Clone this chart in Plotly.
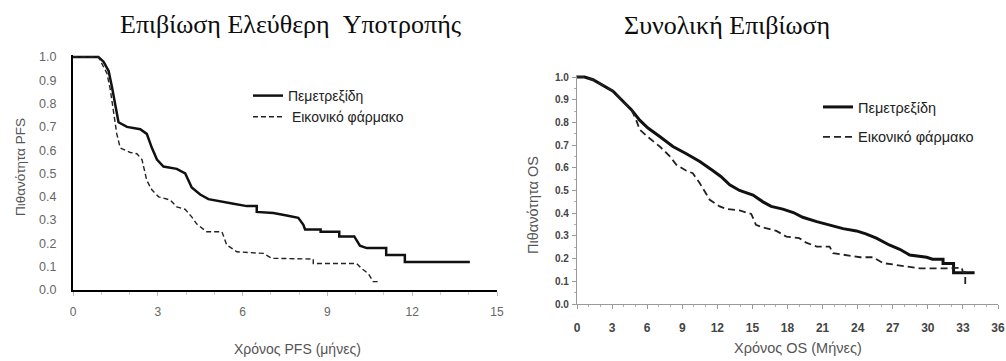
import plotly.graph_objects as go

# ---------------- data ----------------
pfs_t_pem = [0, 0.9, 1.08, 1.26, 1.38, 1.5, 1.61, 1.91, 2.38, 2.61, 2.79, 2.97, 3.2, 3.67, 3.97, 4.2, 4.5,
             4.79, 5.32, 5.68, 6.15, 6.5, 6.5, 7.09, 7.56, 7.97, 8.15, 8.21, 8.76, 8.76, 9.42, 9.42, 9.95,
             10.15, 10.39, 11.08, 11.08, 11.74, 11.74, 14.04]
pfs_s_pem = [1.0, 1.0, 0.98, 0.94, 0.87, 0.79, 0.72, 0.70, 0.69, 0.67, 0.61, 0.56, 0.53, 0.52, 0.50, 0.44, 0.41,
             0.39, 0.38, 0.37, 0.36, 0.36, 0.335, 0.33, 0.32, 0.31, 0.28, 0.26, 0.26, 0.25, 0.25, 0.23, 0.23,
             0.19, 0.18, 0.18, 0.15, 0.15, 0.12, 0.12]

pfs_t_plc = [0, 0.9, 1.2, 1.32, 1.44, 1.55, 1.67, 2.03, 2.26, 2.44, 2.61, 2.79, 3.03, 3.44, 3.67, 3.97, 4.2,
             4.38, 4.73, 5.27, 5.44, 5.8, 6.74, 7.03, 8.5, 8.5, 10.03, 10.2, 10.45, 10.62, 10.8]
pfs_s_plc = [1.0, 1.0, 0.93, 0.86, 0.76, 0.67, 0.61, 0.59, 0.585, 0.56, 0.47, 0.43, 0.40, 0.386, 0.357, 0.346, 0.314,
             0.283, 0.25, 0.25, 0.193, 0.164, 0.157, 0.136, 0.133, 0.114, 0.114, 0.093, 0.07, 0.036, 0.036]

os_t_pem = [0, 0.65, 1.37, 2.22, 3.08, 3.93, 4.65, 5.36, 6.07, 7.07, 8.2, 9.35, 10.5, 11.6, 12.3, 13.06, 13.9,
            15.05, 15.9, 16.6, 17.6, 18.5, 19.3, 20.5, 21.6, 22.75, 23.9, 24.7, 25.6, 26.7, 27.6, 28.45, 29.9,
            30.4, 31.3, 31.3, 32.2, 32.2, 34.0]
os_s_pem = [1.0, 1.0, 0.988, 0.962, 0.937, 0.893, 0.856, 0.81, 0.775, 0.738, 0.694, 0.662, 0.628, 0.588, 0.562,
            0.525, 0.5, 0.48, 0.45, 0.43, 0.418, 0.403, 0.382, 0.363, 0.349, 0.332, 0.322, 0.309, 0.29, 0.26,
            0.241, 0.216, 0.206, 0.197, 0.197, 0.178, 0.178, 0.138, 0.138]

os_t_plc = [0, 0.65, 1.37, 2.22, 3.08, 3.93, 4.65, 5.07, 5.36, 6.2, 7.07, 7.9, 8.5, 9.35, 9.9, 10.5, 11.06, 11.35,
            12.2, 12.77, 13.9, 14.9, 15.3, 15.9, 17.05, 17.9, 19.0, 19.6, 20.5, 21.6, 21.9, 23.3, 24.2, 25.3,
            26.2, 27.3, 28.2, 29.3, 31.6, 32.9, 33.0, 33.2, 33.2, 33.4]
os_s_plc = [1.0, 1.0, 0.988, 0.962, 0.937, 0.893, 0.856, 0.81, 0.768, 0.73, 0.694, 0.653, 0.613, 0.587, 0.576,
            0.532, 0.481, 0.459, 0.43, 0.419, 0.412, 0.397, 0.349, 0.337, 0.322, 0.297, 0.29, 0.27, 0.253, 0.253,
            0.224, 0.212, 0.206, 0.206, 0.18, 0.172, 0.165, 0.157, 0.157, 0.16, 0.14, 0.14, 0.085, 0.085]

pfs_xticks = [0, 3, 6, 9, 12, 15]
os_xticks = [0, 3, 6, 9, 12, 15, 18, 21, 24, 27, 30, 33, 36]
y_ticks = [0.0, 0.1, 0.2, 0.3, 0.4, 0.5, 0.6, 0.7, 0.8, 0.9, 1.0]

name_pem = "Πεμετρεξίδη"
name_plc = "Εικονικό φάρμακο"
title_pfs = "Επιβίωση Ελεύθερη &nbsp;Υποτροπής"
title_os = "Συνολική Επιβίωση"
xlab_pfs = "Χρόνος PFS (μήνες)"
xlab_os = "Χρόνος OS (Μήνες)"
ylab_pfs = "Πιθανότητα PFS"
ylab_os = "Πιθανότητα OS"

# ---------------- figure ----------------
W, H = 1006, 361
SANS = "Liberation Sans, Arial, sans-serif"
SERIF = "Liberation Serif, Times New Roman, serif"
INK = "#111111"

def px(x):
    return x / W

def py(y):
    return (H - y) / H

fig = go.Figure()

fig.add_trace(go.Scatter(x=pfs_t_pem, y=pfs_s_pem, mode="lines", name=name_pem,
                         line=dict(color=INK, width=2.5), xaxis="x", yaxis="y", legend="legend"))
fig.add_trace(go.Scatter(x=pfs_t_plc, y=pfs_s_plc, mode="lines", name=" " + name_plc,
                         line=dict(color="#222222", width=1.4, dash="5px,3px"), xaxis="x", yaxis="y",
                         legend="legend"))
fig.add_trace(go.Scatter(x=os_t_pem, y=os_s_pem, mode="lines", name=name_pem, legendgroup="a",
                         line=dict(color=INK, width=3), xaxis="x2", yaxis="y2", legend="legend2"))
fig.add_trace(go.Scatter(x=os_t_plc, y=os_s_plc, mode="lines", name=name_plc, legendgroup="b",
                         line=dict(color="#222222", width=1.8, dash="7px,4px"), xaxis="x2", yaxis="y2",
                         legend="legend2"))

# left axes: 0 -> x=73, 15 -> x=497; y 0 -> 290, 1.0 -> 57
yl_top = 57 - 0.01 * 233
fig.update_layout(
    xaxis=dict(domain=[px(73), px(497)], range=[0, 15], tickvals=pfs_xticks, showline=True,
               linecolor="#000000", linewidth=1.5, ticks="outside", ticklen=4, tickcolor="#bbbbbb",
               minor=dict(dtick=1, ticks="outside", ticklen=3, tickcolor="#cccccc"),
               tickfont=dict(family=SANS, size=12, color="#666666"), showgrid=False, zeroline=False,
               anchor="y", fixedrange=True, ticklabelstandoff=6, automargin=False),
    yaxis=dict(domain=[py(290), py(yl_top)], range=[0, 1.01], tickvals=y_ticks, tickformat=".1f",
               showline=True, linecolor="#000000", linewidth=2, ticks="", showgrid=False, zeroline=False,
               tickfont=dict(family=SANS, size=12.5, color="#666666"), anchor="x", fixedrange=True,
               ticklabelstandoff=12, automargin=False),
)

# right axes: 0 -> x=577, 36 -> x=998; y 0 -> 304, 1.0 -> 77
yr_top = 77 - 0.01 * 227
fig.update_layout(
    xaxis2=dict(domain=[px(577), px(998)], range=[0, 36], tickvals=os_xticks, showline=True,
                linecolor="#9a9a9a", linewidth=1.2, ticks="outside", ticklen=4, tickcolor="#9a9a9a",
                minor=dict(dtick=1, ticks="outside", ticklen=2, tickcolor="#b0b0b0"),
                tickfont=dict(family=SANS, size=12, color="#444444", weight="bold"), showgrid=False,
                zeroline=False, anchor="y2", fixedrange=True, ticklabelstandoff=8, automargin=False),
    yaxis2=dict(domain=[py(304), py(yr_top)], range=[0, 1.01], tickvals=y_ticks, tickformat=".1f",
                showline=True, linecolor="#9a9a9a", linewidth=1.2, ticks="outside", ticklen=4,
                tickcolor="#9a9a9a", minor=dict(dtick=0.05, ticks="outside", ticklen=2, tickcolor="#b0b0b0"),
                showgrid=False, zeroline=False,
                tickfont=dict(family=SANS, size=10, color="#444444", weight="bold"), anchor="x2",
                fixedrange=True, ticklabelstandoff=1, automargin=False),
)

fig.update_layout(
    width=W, height=H, margin=dict(l=0, r=0, t=0, b=0, autoexpand=False), paper_bgcolor="white",
    plot_bgcolor="white", showlegend=True,
    legend=dict(x=px(248), y=py(80), xanchor="left", yanchor="top", bgcolor="rgba(0,0,0,0)",
                font=dict(family=SANS, size=14, color="#222222"), itemwidth=30, tracegroupgap=0),
    legend2=dict(x=px(818), y=py(91), xanchor="left", yanchor="top", bgcolor="rgba(0,0,0,0)",
                 font=dict(family=SANS, size=14.5, color="#222222"), itemwidth=30, tracegroupgap=8),
)

annotations = [
    dict(text=title_pfs, x=px(291), y=py(24), font=dict(family=SERIF, size=26, color="#0d0d0d")),
    dict(text=title_os, x=px(727), y=py(25), font=dict(family=SERIF, size=26, color="#0d0d0d")),
    dict(text=xlab_pfs, x=px(297), y=py(349), font=dict(family=SANS, size=14, color="#555555")),
    dict(text=xlab_os, x=px(798), y=py(348), font=dict(family=SANS, size=14.5, color="#555555")),
    dict(text=ylab_pfs, x=px(20), y=py(167), textangle=-90, font=dict(family=SANS, size=13.5, color="#555555")),
    dict(text=ylab_os, x=px(533), y=py(205), textangle=-90, font=dict(family=SANS, size=14.5, color="#555555")),
]
for a in annotations:
    a.update(xref="paper", yref="paper", showarrow=False, xanchor="center", yanchor="middle")
fig.update_layout(annotations=annotations)

fig.write_html("out.html", config={"displayModeBar": False},
               post_script="document.body.style.margin='0';")
